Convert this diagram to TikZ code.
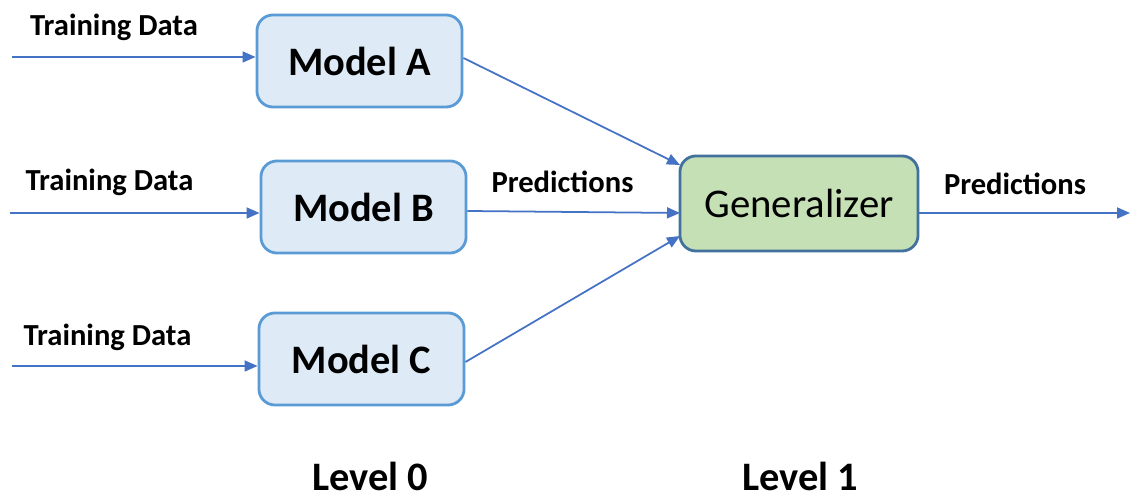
\documentclass[tikz,border=0pt]{standalone}
\usepackage{fontspec}
\setmainfont{Carlito}
\usetikzlibrary{arrows.meta}
\definecolor{boxblue}{HTML}{DEEBF7}
\definecolor{edgeblue}{HTML}{5B9BD5}
\definecolor{boxgreen}{HTML}{C5E0B4}
\definecolor{edgegreen}{HTML}{41719C}
\definecolor{lineblue}{HTML}{4472C4}

\begin{document}
\begin{tikzpicture}[x=0.01cm, y=-0.01cm,
  >={Triangle[length=0.13cm, width=0.11cm]},
  model/.style={draw=edgeblue, line width=0.8pt, fill=boxblue, rounded corners=0.16cm,
    minimum width=2.05cm, minimum height=0.92cm, font=\fontsize{11.5}{12}\selectfont\bfseries},
  gen/.style={draw=edgegreen, line width=0.8pt, fill=boxgreen, rounded corners=0.16cm,
    minimum width=2.38cm, minimum height=0.95cm, font=\fontsize{11.6}{12}\selectfont},
  lbl/.style={font=\fontsize{8.7}{10}\selectfont\bfseries},
  lvl/.style={font=\fontsize{11.5}{12}\selectfont\bfseries},
  flow/.style={->, draw=lineblue, line width=0.5pt}]
\useasboundingbox (0,0) rectangle (1130,495);
% level 0 models
\node[model] (mA) at (359.5,61) {Model A};
\node[model] (mB) at (363.5,207) {Model B};
\node[model] (mC) at (361.5,359) {Model C};
% level 1
\node[gen] (gen) at (799,203.5) {Generalizer};
% inputs
\coordinate (inA) at (12,57);
\coordinate (inB) at (10,213);
\coordinate (inC) at (12,366);
\draw[flow] (inA) -- (inA -| mA.west);
\draw[flow] (inB) -- (inB -| mB.west);
\draw[flow] (inC) -- (inC -| mC.west);
\node[lbl] (tA) at (114,27) {Training Data};
\node[lbl] (tB) at (109.5,182) {Training Data};
\node[lbl] (tC) at (107.5,337) {Training Data};
% predictions into generalizer
\coordinate (gA) at (680,165);
\coordinate (gB) at (680,213);
\coordinate (gC) at (680,236);
\draw[flow] (mA.east |- 0,58) -- (gA);
\draw[flow] (mB.east |- 0,211) -- (gB);
\draw[flow] (mC.east |- 0,362) -- (gC);
\node[lbl] (pB) at (562.5,182) {Predictions};
% output
\coordinate (out) at (1130,213);
\draw[flow] (gen.east |- out) -- (out);
\node[lbl] (pOut) at (1015,184) {Predictions};
% levels
\node[lvl] (lv0) at (370,476) {Level 0};
\node[lvl] (lv1) at (800,476) {Level 1};
\end{tikzpicture}
\end{document}
